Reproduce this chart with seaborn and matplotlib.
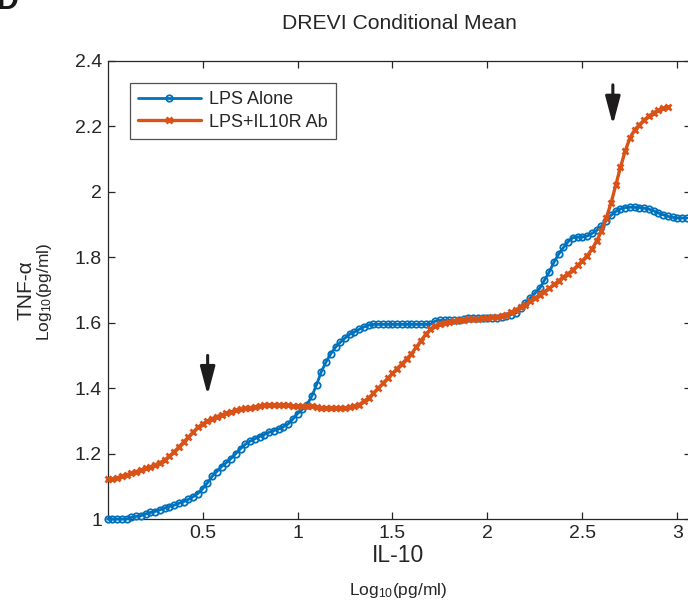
import numpy as np
import matplotlib
matplotlib.use('Agg')
import matplotlib.pyplot as plt
import seaborn as sns

# IL-10 positions (log10 pg/ml) where the two conditional-mean curves were read
il10 = np.round(np.arange(0, 123) * 0.025, 3)

lps_alone = [
    1.000, 1.000, 1.000, 1.000, 1.000, 1.005, 1.008, 1.010, 1.015, 1.020,
    1.023, 1.028, 1.033, 1.038, 1.042, 1.048, 1.053, 1.060, 1.068, 1.078,
    1.092, 1.110, 1.130, 1.145, 1.160, 1.172, 1.185, 1.200, 1.215, 1.228,
    1.238, 1.245, 1.252, 1.258, 1.265, 1.270, 1.275, 1.282, 1.290, 1.305,
    1.322, 1.335, 1.350, 1.375, 1.410, 1.450, 1.480, 1.505, 1.525, 1.540,
    1.553, 1.565, 1.572, 1.580, 1.587, 1.593, 1.595, 1.595, 1.595, 1.595,
    1.595, 1.595, 1.595, 1.595, 1.595, 1.595, 1.595, 1.595, 1.595, 1.605,
    1.607, 1.607, 1.607, 1.607, 1.607, 1.610, 1.615, 1.615, 1.615, 1.615,
    1.615, 1.615, 1.615, 1.618, 1.620, 1.625, 1.630, 1.645, 1.660, 1.675,
    1.690, 1.705, 1.730, 1.755, 1.785, 1.810, 1.830, 1.848, 1.860, 1.862,
    1.862, 1.865, 1.873, 1.882, 1.895, 1.912, 1.928, 1.940, 1.948, 1.952,
    1.953, 1.953, 1.952, 1.950, 1.947, 1.942, 1.935, 1.930, 1.925, 1.922,
    1.920, 1.920, 1.920,
]

lps_il10r = [
    1.122, 1.122, 1.125, 1.130, 1.135, 1.140, 1.145, 1.150, 1.155, 1.160,
    1.165, 1.172, 1.180, 1.192, 1.205, 1.220, 1.235, 1.250, 1.265, 1.280,
    1.290, 1.300, 1.307, 1.313, 1.318, 1.323, 1.328, 1.332, 1.335, 1.338,
    1.340, 1.343, 1.345, 1.347, 1.348, 1.348, 1.348, 1.348, 1.347, 1.345,
    1.345, 1.345, 1.345, 1.344, 1.343, 1.340, 1.340, 1.340, 1.340, 1.340,
    1.340, 1.342, 1.345, 1.350, 1.360, 1.370, 1.385, 1.400, 1.415, 1.430,
    1.445, 1.460, 1.475, 1.490, 1.505, 1.525, 1.545, 1.565, 1.580, 1.590,
    1.597, 1.600, 1.603, 1.605, 1.607, 1.608, 1.610, 1.610, 1.612, 1.613,
    1.615, 1.617, 1.618, 1.620, 1.625, 1.632, 1.640, 1.648, 1.655, 1.665,
    1.675, 1.685, 1.695, 1.705, 1.717, 1.728, 1.740, 1.750, 1.762, 1.775,
    1.790, 1.805, 1.825, 1.850, 1.880, 1.920, 1.965, 2.020, 2.075, 2.125,
    2.165, 2.190, 2.205, 2.220, 2.232, 2.242, 2.250, 2.255, 2.258,
]

arrow_x = [0.527, 2.66]
arrow_top = [1.50, 2.327]
arrow_tip = [1.379, 2.205]

xticks = [0.5, 1, 1.5, 2, 2.5, 3]
yticks = [1, 1.2, 1.4, 1.6, 1.8, 2, 2.2, 2.4]

sns.set_style('ticks')
plt.rcParams['font.family'] = ['Liberation Sans', 'DejaVu Sans']
plt.rcParams['mathtext.default'] = 'regular'

blue = '#0072BD'
orange = '#D95319'
txt = '#262626'

fig = plt.figure(figsize=(6.88, 6.05), dpi=100)
ax = fig.add_axes([0.1563, 0.1421, 0.8477, 0.7571])

sns.lineplot(x=il10, y=lps_alone, ax=ax, color=blue, lw=2.0, marker='o',
             markersize=4.6, markerfacecolor='none', markeredgecolor=blue,
             markeredgewidth=1.3, label='LPS Alone', clip_on=False, zorder=3)
sns.lineplot(x=il10[:len(lps_il10r)], y=lps_il10r, ax=ax, color=orange, lw=2.4,
             marker='x', markersize=4.0, markeredgecolor=orange,
             markeredgewidth=2.0, label='LPS+IL10R Ab', clip_on=False, zorder=4)

for x, y0, y1 in zip(arrow_x, arrow_top, arrow_tip):
    ax.annotate('', xy=(x, y1), xytext=(x, y0),
                arrowprops=dict(arrowstyle='-|>,head_length=1.7,head_width=0.45',
                                color='#1f1c1d', lw=2.2, shrinkA=0, shrinkB=0))

ax.set_xlim(0, 3.07)
ax.set_ylim(1, 2.4)
ax.set_xticks(xticks)
ax.set_yticks(yticks)
ax.set_xticklabels(['%g' % v for v in xticks])
ax.set_yticklabels(['%g' % v for v in yticks])
ax.tick_params(direction='in', length=5, width=0.9, top=True, right=True,
               labelsize=14, colors=txt, pad=4)
for s in ax.spines.values():
    s.set_visible(True)
    s.set_color('#262626')
    s.set_linewidth(0.9)

ax.set_title('DREVI Conditional Mean', fontsize=15.2, color=txt, pad=23)

fig.text(0.578, 1 - 555 / 605, 'IL-10', ha='center', va='center', fontsize=16.5, color=txt)
fig.text(0.578, 1 - 590 / 605, r'Log$_{10}$(pg/ml)', ha='center', va='center',
         fontsize=12.5, color=txt)
fig.text(26 / 688, 1 - 290 / 605, 'TNF-α', ha='center', va='center', rotation=90,
         fontsize=15, color=txt)
fig.text(45 / 688, 1 - 292 / 605, r'Log$_{10}$(pg/ml)', ha='center', va='center',
         rotation=90, fontsize=12.5, color=txt)

fig.text(-0.004, 1 - 9 / 605, 'D', ha='left', va='baseline', fontsize=22,
         fontweight='bold', color='#1a1a1a')

leg = ax.legend(loc='upper left', bbox_to_anchor=(0.038, 0.952), borderaxespad=0,
                fontsize=13, frameon=True, fancybox=False, handlelength=3.5,
                handletextpad=0.45, borderpad=0.45, labelspacing=0.3)
leg.get_frame().set_edgecolor('#262626')
leg.get_frame().set_linewidth(0.9)
for t in leg.get_texts():
    t.set_color(txt)

fig.savefig('out.png', dpi=100)
